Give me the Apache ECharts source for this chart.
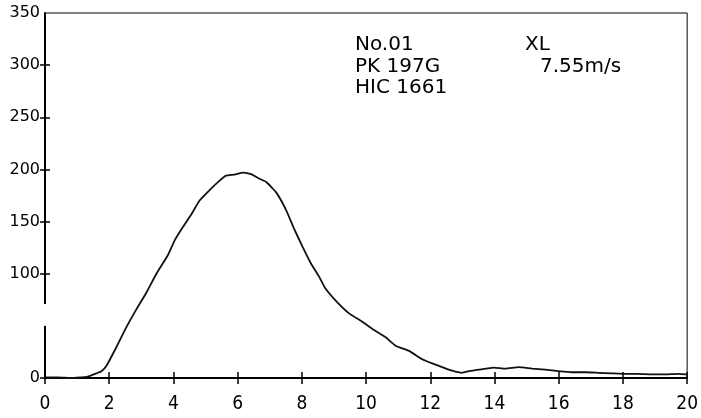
<!DOCTYPE html>
<html>
<head>
<meta charset="utf-8">
<script src="https://cdn.jsdelivr.net/npm/echarts@6/dist/echarts.min.js"></script>
<style>
  html, body { margin: 0; padding: 0; background: #fff; }
  #main { width: 701px; height: 418px; }
</style>
</head>
<body>
<div id="main"></div>
<script>
// time (ms) and acceleration (G)
var timeMs = [0, 0.4, 0.8, 1.1, 1.3, 1.6, 1.76, 1.92, 2.23, 2.54, 2.85, 3.16, 3.47, 3.83, 4.04, 4.30, 4.56, 4.81,
  5.12, 5.43, 5.64, 5.90, 6.16, 6.42, 6.68, 6.89, 7.20, 7.51, 7.76, 8.02, 8.28, 8.54, 8.73, 9.06, 9.47, 9.88,
  10.25, 10.61, 10.92, 11.34, 11.75, 12.06, 12.37, 12.68, 12.99, 13.20, 13.51, 13.98, 14.34, 14.75, 15.17, 15.58,
  16.0, 16.41, 16.83, 17.24, 17.65, 18.07, 18.48, 18.90, 19.31, 19.73, 19.98];
var accel = [0.5, 0.5, 0, 0.5, 1, 4.5, 6.5, 12, 30, 49, 66, 82, 100, 118, 132, 145, 157, 170,
  180, 189, 194, 195, 197, 195.5, 191, 188, 178, 161, 143, 126, 110, 97, 86, 74, 62, 54,
  46, 39, 31, 26, 18, 14, 10.5, 7, 5, 6.5, 8, 10, 9, 10.5, 9, 8,
  6.5, 5.5, 5.5, 5, 4.5, 4, 4, 3.5, 3.5, 4, 3.5];

var yTickValues = [0, 100, 150, 200, 250, 300];
var yLabelValues = [0, 100, 150, 200, 250, 300, 350];
var gapRange = [50, 71]; // piece of the left axis missing in the scan

var notes = [
  {text: 'No.01', x: 355, y: 45},
  {text: 'PK 197G', x: 355, y: 67},
  {text: 'HIC 1661', x: 355, y: 88},
  {text: 'XL', x: 525, y: 45},
  {text: '7.55m/s', x: 540, y: 67}
];

var lineData = timeMs.map(function (t, i) { return [t, accel[i]]; });

var xBase = { type: 'value', min: 0, max: 20, interval: 2, position: 'bottom', splitLine: { show: false } };
var yBase = { type: 'value', min: 0, max: 350, interval: 50, position: 'left', splitLine: { show: false } };

var chart = echarts.init(document.getElementById('main'));
chart.setOption({
  animation: false,
  backgroundColor: '#fff',
  grid: {
    left: 45, right: 12, top: 13, bottom: 40,
    show: true, borderColor: '#000', borderWidth: 1
  },
  xAxis: [
    Object.assign({}, xBase, {
      axisLine: { show: true, lineStyle: { color: '#000', width: 2 } },
      axisTick: { show: true, length: 6, lineStyle: { color: '#000', width: 1.5 } },
      axisLabel: { color: '#000', fontFamily: '"DejaVu Sans Condensed", "Liberation Sans Narrow", "Liberation Sans"', fontSize: 19, margin: 17 }
    }),
    Object.assign({}, xBase, {
      axisLine: { show: false },
      axisTick: { show: true, inside: true, length: 6, lineStyle: { color: '#000', width: 1.5 } },
      axisLabel: { show: false }
    })
  ],
  yAxis: [
    Object.assign({}, yBase, {
      axisLine: { show: true, lineStyle: { color: '#000', width: 2 } },
      axisTick: { show: true, length: 5, customValues: yTickValues, lineStyle: { color: '#000', width: 1.5 } },
      axisLabel: { color: '#000', fontFamily: 'DejaVu Sans', fontSize: 16, margin: 5, customValues: yLabelValues }
    }),
    Object.assign({}, yBase, {
      axisLine: { show: false },
      axisTick: { show: true, inside: true, length: 5, customValues: yTickValues, lineStyle: { color: '#000', width: 1.5 } },
      axisLabel: { show: false }
    })
  ],
  series: [{
    type: 'line',
    data: lineData,
    xAxisIndex: 0,
    yAxisIndex: 0,
    showSymbol: false,
    smooth: 0.15,
    lineStyle: { color: '#111', width: 1.8 }
  }]
});

// white patch over the missing bit of the left axis, plus the text block
var gapTop = chart.convertToPixel({gridIndex: 0}, [0, gapRange[1]]);
var gapBottom = chart.convertToPixel({gridIndex: 0}, [0, gapRange[0]]);
var graphics = notes.map(function (n) {
  return {
    type: 'text', x: n.x, y: n.y, z: 100,
    style: { text: n.text, fill: '#000', font: '20px "DejaVu Sans"', verticalAlign: 'middle' }
  };
});
graphics.push({
  type: 'rect', z: 100,
  shape: { x: gapTop[0] - 3, y: gapTop[1], width: 6, height: gapBottom[1] - gapTop[1] },
  style: { fill: '#fff' }
});
chart.setOption({ graphic: graphics });
</script>
</body>
</html>
